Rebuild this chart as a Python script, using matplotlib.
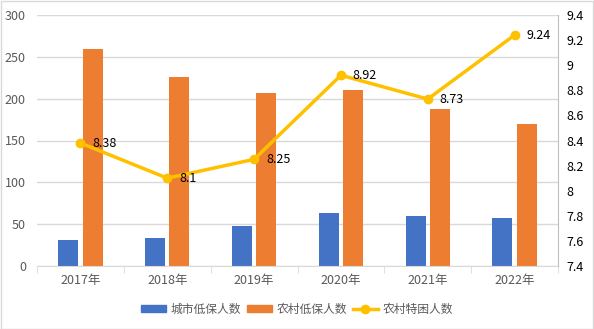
import matplotlib
matplotlib.use("Agg")
import matplotlib.pyplot as plt
import numpy as np
from matplotlib.ticker import FuncFormatter, FixedLocator
from matplotlib.patches import Patch
from matplotlib.lines import Line2D

plt.rcParams['font.family'] = ['Noto Sans CJK SC', 'DejaVu Sans']

years = ['2017年', '2018年', '2019年', '2020年', '2021年', '2022年']
urban = [31, 33.5, 47.8, 63.3, 59.7, 57.3]
rural = [259, 226, 207, 210, 187.5, 170]
special = [8.38, 8.1, 8.25, 8.92, 8.73, 9.24]
series_names = ['城市低保人数', '农村低保人数', '农村特困人数']

c_blue = '#4472C4'
c_orange = '#ED7D31'
c_gold = '#FFC000'
c_text = '#595959'
c_grid = '#D9D9D9'

fig = plt.figure(figsize=(5.94, 3.29), dpi=100)
fig.patches.append(plt.Rectangle((0.001, 0.001), 0.998, 0.997, transform=fig.transFigure,
                                 fill=False, edgecolor='#D9D9D9', linewidth=1))
ax = fig.add_axes([37/594, 1-266/329, (558-37)/594, (266-15)/329])
x = np.arange(len(years))
w = 0.23
ax.bar(x - 0.14, urban, w, color=c_blue, zorder=2)
ax.bar(x + 0.14, rural, w, color=c_orange, zorder=2)
ax.set_ylim(0, 300)
ax.set_xlim(-0.5, len(years) - 0.5)
ax.set_yticks(np.arange(0, 301, 50))
ax.yaxis.grid(True, color=c_grid, linewidth=1, zorder=0)
ax.set_axisbelow(True)
for s in ['top', 'left', 'right']:
    ax.spines[s].set_visible(False)
ax.spines['bottom'].set_color(c_grid)
ax.tick_params(axis='y', length=0, labelsize=9, labelcolor=c_text, pad=8)
ax.set_xticks(x)
ax.set_xticklabels(years)
ax.tick_params(axis='x', length=0, labelsize=9, labelcolor=c_text, pad=6)
ax.xaxis.set_minor_locator(FixedLocator(np.arange(-0.5, len(years), 1)))
ax.tick_params(axis='x', which='minor', length=5, color=c_grid)

ax2 = ax.twinx()
ax2.set_ylim(7.4, 9.4)
ax2.set_yticks(np.round(np.arange(7.4, 9.41, 0.2), 1))
ax2.yaxis.set_major_formatter(FuncFormatter(lambda v, p: '%g' % round(v, 1)))
ax2.plot(x, special, color=c_gold, linewidth=2.5, marker='o', markersize=6, zorder=3)
for xi, v in zip(x, special):
    ax2.annotate('%g' % v, (xi, v), xytext=(8.5, 0), textcoords='offset points',
                 ha='left', va='center', fontsize=9, color='black')
for s in ['top', 'left', 'bottom']:
    ax2.spines[s].set_visible(False)
ax2.spines['right'].set_color('#BFBFBF')
ax2.tick_params(axis='y', length=0, labelsize=9, labelcolor='black', pad=6)

handles = [Patch(color=c_blue), Patch(color=c_orange),
           Line2D([0], [0], color=c_gold, linewidth=2.5, marker='o', markersize=6)]
fig.legend(handles, series_names, loc='center', bbox_to_anchor=(0.5, 1-309/329), ncol=3,
           frameon=False, fontsize=8.5, labelcolor=c_text, handlelength=2.1,
           handleheight=0.6, columnspacing=0.5, handletextpad=0.4)

fig.savefig('out.png', dpi=100)
